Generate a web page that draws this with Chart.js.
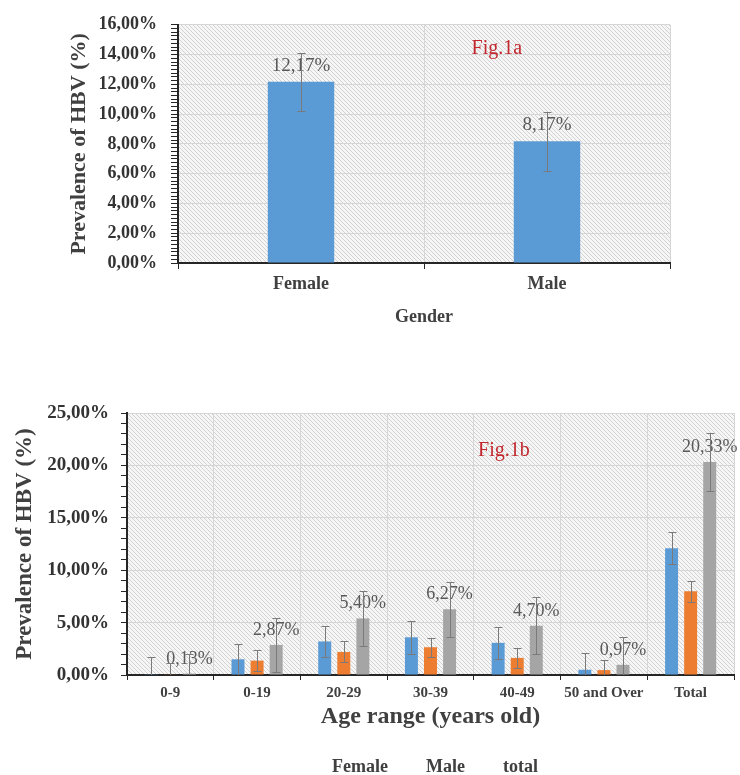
<!DOCTYPE html>
<html>
<head>
<meta charset="utf-8">
<script src="https://cdn.jsdelivr.net/npm/chart.js@4.4.0/dist/chart.umd.min.js"></script>
<style>
  html, body { margin: 0; padding: 0; background: #fff; overflow: hidden; }
  #box1 { position: absolute; left: 0; top: 0; width: 740px; height: 340px; }
  #box2 { position: absolute; left: 0; top: 350px; width: 740px; height: 440px; }
</style>
</head>
<body>
<div id="box1"><canvas id="genderChart"></canvas></div>
<div id="box2"><canvas id="ageChart"></canvas></div>
<script>
// Fig.1a - by gender
const genderLabels = ['Female', 'Male'];
const genderValues = [12.17, 8.17];
const genderErrors = [1.95, 2.0];
const genderYTicks = [0, 2, 4, 6, 8, 10, 12, 14, 16];

// Fig.1b - by age range
const ageLabels = ['0-9', '0-19', '20-29', '30-39', '40-49', '50 and Over', 'Total'];
const femaleValues = [0.07, 1.50, 3.20, 3.60, 3.07, 0.50, 12.10];
const maleValues = [0.06, 1.37, 2.20, 2.65, 1.63, 0.47, 8.00];
const totalValues = [0.13, 2.87, 5.40, 6.27, 4.70, 0.97, 20.33];
const femaleErrors = [1.65, 1.5, 1.5, 1.55, 1.55, 1.6, 1.5];
const maleErrors = [1.1, 1.0, 1.0, 0.9, 0.95, 0.95, 1.0];
const totalErrors = [1.9, 2.6, 2.6, 2.65, 2.7, 2.7, 2.8];
const ageYTicks = [0, 5, 10, 15, 20, 25];

const SERIF = "'Liberation Serif', 'Times New Roman', serif";
const TEXT = '#404040';
const AXIS = '#262626';
const GRID = '#d6d6d6';
Chart.defaults.font.family = SERIF;

const fmtPct = (v) => v.toFixed(2).replace('.', ',') + '%';

// diagonal hatch behind the plot
function makeHatch(ctx) {
  const c = document.createElement('canvas');
  c.width = 4; c.height = 4;
  const g = c.getContext('2d');
  g.fillStyle = '#f6f6f6';
  g.fillRect(0, 0, 4, 4);
  g.strokeStyle = '#d2d2d2';
  g.lineWidth = 1;
  g.beginPath();
  g.moveTo(0, 0); g.lineTo(4, 4);
  g.moveTo(-1, 3); g.lineTo(1, 5);
  g.moveTo(3, -1); g.lineTo(5, 1);
  g.stroke();
  return ctx.createPattern(c, 'repeat');
}

const hatchPlugin = {
  id: 'hatch',
  beforeDraw(chart) {
    const { ctx, chartArea: a } = chart;
    ctx.save();
    ctx.fillStyle = makeHatch(ctx);
    ctx.fillRect(a.left, a.top, a.width, a.height);
    ctx.restore();
  }
};

const figLabelPlugin = {
  id: 'figLabel',
  beforeDatasetsDraw(chart, args, opts) {
    const { ctx, chartArea: a } = chart;
    ctx.save();
    ctx.font = opts.font;
    ctx.fillStyle = opts.color;
    ctx.textAlign = 'center';
    ctx.textBaseline = 'middle';
    ctx.fillText(opts.text, a.left + a.width * opts.x, a.top + a.height * opts.y);
    ctx.restore();
  }
};

const valueLabelPlugin = {
  id: 'valueLabels',
  afterDatasetsDraw(chart, args, opts) {
    const { ctx } = chart;
    ctx.save();
    ctx.font = opts.font;
    ctx.fillStyle = opts.color;
    ctx.textAlign = 'center';
    ctx.textBaseline = 'alphabetic';
    chart.data.datasets.forEach((ds, i) => {
      if (!ds.showValue) return;
      chart.getDatasetMeta(i).data.forEach((bar, j) => {
        ctx.fillText(fmtPct(ds.data[j]), bar.x, bar.y - opts.offset);
      });
    });
    ctx.restore();
  }
};

const errorBarPlugin = {
  id: 'errorBars',
  afterDatasetsDraw(chart, args, opts) {
    const { ctx, chartArea: a } = chart;
    const y = chart.scales.y;
    ctx.save();
    ctx.beginPath();
    ctx.rect(a.left, 0, a.width, a.bottom);
    ctx.clip();
    ctx.strokeStyle = opts.color;
    ctx.lineWidth = 1;
    chart.data.datasets.forEach((ds, i) => {
      if (!ds.errors) return;
      chart.getDatasetMeta(i).data.forEach((bar, j) => {
        const v = ds.data[j], e = ds.errors[j];
        const top = Math.round(y.getPixelForValue(v + e)) + 0.5;
        const bottom = Math.round(y.getPixelForValue(v - e)) + 0.5;
        const x = Math.round(bar.x) + 0.5;
        ctx.beginPath();
        ctx.moveTo(x, top); ctx.lineTo(x, bottom);
        ctx.moveTo(x - opts.cap, top); ctx.lineTo(x + opts.cap, top);
        ctx.moveTo(x - opts.cap, bottom); ctx.lineTo(x + opts.cap, bottom);
        ctx.stroke();
      });
    });
    ctx.restore();
  }
};

const plugins = [hatchPlugin, figLabelPlugin, valueLabelPlugin, errorBarPlugin];

new Chart(document.getElementById('genderChart'), {
  type: 'bar',
  data: {
    labels: genderLabels,
    datasets: [{
      label: 'Prevalence',
      data: genderValues,
      errors: genderErrors,
      showValue: true,
      backgroundColor: '#5b9bd5',
      borderWidth: 0,
      barPercentage: 0.27,
      categoryPercentage: 1
    }]
  },
  plugins: plugins,
  options: {
    maintainAspectRatio: false,
    animation: false,
    layout: { padding: { left: 60, right: 70, top: 20, bottom: 0 } },
    plugins: {
      legend: { display: false },
      tooltip: { enabled: false },
      figLabel: { text: 'Fig.1a', x: 0.648, y: 0.099, font: '20px ' + SERIF, color: '#c1272d' },
      valueLabels: { font: '19px ' + SERIF, color: '#595959', offset: 11 },
      errorBars: { cap: 4, color: '#7a7a7a' }
    },
    scales: {
      x: {
        grid: { offset: true, color: GRID, tickColor: AXIS, tickLength: 6 },
        border: { color: AXIS, width: 2 },
        ticks: { padding: 5, color: TEXT, font: { size: 18, weight: 'bold' } },
        title: {
          display: true, text: 'Gender', color: TEXT,
          font: { size: 18, weight: 'bold' }, padding: { top: 0, bottom: 12 }
        },
        afterFit: (s) => { s.height = 77; }
      },
      y: {
        min: 0,
        max: 16,
        ticks: {
          stepSize: 0.25, autoSkip: false, padding: 14, color: '#333',
          font: { size: 18, weight: 'bold' },
          callback: (v) => genderYTicks.includes(v) ? fmtPct(v) : ''
        },
        grid: {
          color: (c) => genderYTicks.includes(c.tick.value) ? GRID : 'transparent',
          tickColor: AXIS, tickLength: 7
        },
        border: { color: AXIS, width: 2 },
        title: {
          display: true, text: 'Prevalence of HBV (%)', color: TEXT,
          font: { size: 22, weight: 'bold' }, padding: { top: 6, bottom: 0 }
        },
        afterFit: (s) => { s.width = 118; }
      }
    }
  }
});

new Chart(document.getElementById('ageChart'), {
  type: 'bar',
  data: {
    labels: ageLabels,
    datasets: [
      { label: 'Female', data: femaleValues, errors: femaleErrors, backgroundColor: '#5b9bd5', borderWidth: 0 },
      { label: 'Male', data: maleValues, errors: maleErrors, backgroundColor: '#ed7d31', borderWidth: 0 },
      { label: 'total', data: totalValues, errors: totalErrors, showValue: true, backgroundColor: '#a5a5a5', borderWidth: 0 }
    ]
  },
  plugins: plugins,
  options: {
    maintainAspectRatio: false,
    animation: false,
    datasets: { bar: { barPercentage: 0.68, categoryPercentage: 0.66 } },
    layout: { padding: { left: 5, right: 6, top: 63, bottom: 4 } },
    plugins: {
      legend: {
        position: 'bottom',
        fullSize: false,
        labels: { boxWidth: 0, padding: 29, color: TEXT, font: { size: 18, weight: 'bold' } }
      },
      tooltip: { enabled: false },
      figLabel: { text: 'Fig.1b', x: 0.621, y: 0.144, font: '20px ' + SERIF, color: '#c1272d' },
      valueLabels: { font: '18px ' + SERIF, color: '#595959', offset: 10 },
      errorBars: { cap: 4, color: '#7a7a7a' }
    },
    scales: {
      x: {
        grid: { offset: true, color: GRID, tickColor: AXIS, tickLength: 5 },
        border: { color: AXIS, width: 2 },
        ticks: { padding: 4, maxRotation: 0, color: TEXT, font: { size: 15, weight: 'bold' } },
        title: {
          display: true, text: 'Age range (years old)', color: TEXT,
          font: { size: 24, weight: 'bold', lineHeight: 1 }, padding: { top: 0, bottom: 0 }
        },
        afterFit: (s) => { s.height = 54; }
      },
      y: {
        min: 0,
        max: 25,
        ticks: {
          stepSize: 1, autoSkip: false, padding: 12, color: '#333',
          font: { size: 19, weight: 'bold' },
          callback: (v) => ageYTicks.includes(v) ? fmtPct(v) : ''
        },
        grid: {
          color: (c) => ageYTicks.includes(c.tick.value) ? GRID : 'transparent',
          tickColor: AXIS, tickLength: 6
        },
        border: { color: AXIS, width: 2 },
        title: {
          display: true, text: 'Prevalence of HBV (%)', color: TEXT,
          font: { size: 23, weight: 'bold' }, padding: { top: 6, bottom: 0 }
        },
        afterFit: (s) => { s.width = 122; }
      }
    }
  }
});
</script>
</body>
</html>
